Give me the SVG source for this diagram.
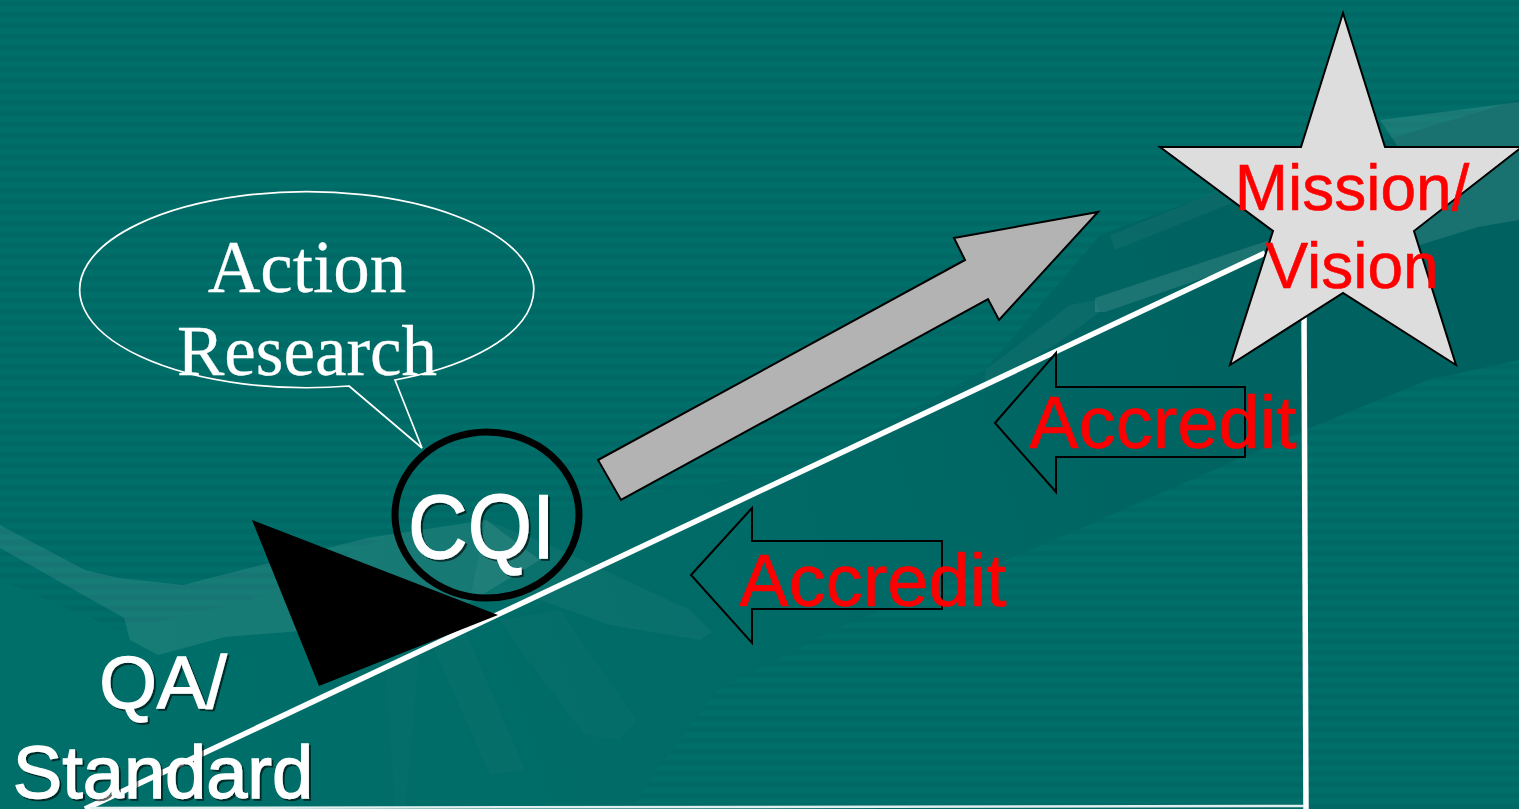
<svg xmlns="http://www.w3.org/2000/svg" width="1519" height="809" viewBox="0 0 1519 809">
<style>
.sans{font-family:"Liberation Sans",Arial,sans-serif}
.serif{font-family:"Liberation Serif","Times New Roman",serif;fill:#fff;stroke:#fff;stroke-width:.3}
.white{fill:#fff;stroke:#fff;stroke-width:1.3;filter:url(#sh)}
.red{fill:#f00;stroke:#f00;stroke-width:.6}
.arrow{fill:none;stroke:#000;stroke-width:2}
.hand{fill:#fff}
</style>
<defs>
<linearGradient id="band" x1="0" y1="0" x2="0" y2="1"><stop offset="0" stop-color="#006966"/><stop offset=".2" stop-color="#006966"/><stop offset=".4" stop-color="#006f69"/><stop offset=".7" stop-color="#006f69"/><stop offset=".9" stop-color="#006966"/><stop offset="1" stop-color="#006966"/></linearGradient>
<pattern id="st" width="10" height="11" patternUnits="userSpaceOnUse" patternTransform="translate(0 3)"><rect width="10" height="11" fill="url(#band)"/></pattern>
<linearGradient id="arm" gradientUnits="userSpaceOnUse" x1="100" y1="720" x2="1300" y2="330"><stop offset="0" stop-color="#006f69"/><stop offset=".55" stop-color="#006a66"/><stop offset="1" stop-color="#006260"/></linearGradient>
<filter id="sh" x="-10%" y="-10%" width="120%" height="125%"><feDropShadow dx="2" dy="2" stdDeviation=".5" flood-color="#000" flood-opacity=".6"/></filter>
</defs>
<g id="background">
<rect width="1519" height="809" fill="url(#st)"/>
<path d="M0 580 L120 630 L250 600 L400 530 L600 500 L800 470 L985 370 L1100 235 L1250 180 L1519 100 L1519 360 L1428 380 L1305 430 L1054 540 L840 627 L717 690 L650 780 L631 809 L0 809Z" fill="url(#arm)"/>
<path class="hand" opacity=".09" d="M0 525 L85 570 L119 578 L183 585 L261 565 L367 538 L486 520 L540 560 L440 620 L225 637 L158 655 L130 640 L124 618 L0 548Z"/>
<path class="hand" opacity=".04" d="M486 520 L550 545 L690 610 L712 632 L700 640 L610 625 L540 600 L470 600Z"/>
<path class="hand" opacity=".02" d="M500 620 L560 610 L636 720 L620 740 L585 735 L520 650Z"/>
<path class="hand" opacity=".02" d="M430 640 L465 630 L525 770 L490 775Z"/>
<path class="hand" opacity=".015" d="M385 660 L420 650 L405 809 L395 809Z"/>
<path class="hand" opacity=".11" d="M1095 298 L1270 240 L1262 258 L1105 312 L1095 312Z"/>
<path class="hand" opacity=".1" d="M1380 120 L1519 102 L1519 220 L1478 227 L1410 248 L1400 150Z"/>
<path class="hand" opacity=".04" d="M1110 235 L1220 190 L1240 200 L1115 250Z"/>
<path class="hand" opacity=".04" d="M985 370 L1070 305 L1095 300 L1100 312 L1055 345 L985 385Z"/>
</g>
<g id="connectors">
<path d="M85 809 L1265 253" fill="none" stroke="#fff" stroke-width="5.5"/>
<path d="M1304 310 L1306 809" fill="none" stroke="#fff" stroke-width="5.5"/>
<path d="M90 808 L1304 806" fill="none" stroke="#dfeeee" stroke-width="2.5"/>
</g>
<g id="qa"><text class="sans white" font-size="74" text-anchor="middle" x="163" y="708">QA/</text>
<text class="sans white" font-size="74" text-anchor="middle" x="163" y="798">Standard</text></g>
<g id="triangle"><path d="M252 520 L498 615 L319 686Z" fill="#000"/></g>
<g id="cqi"><ellipse cx="487" cy="515" rx="92" ry="83" fill="none" stroke="#000" stroke-width="7"/>
<text class="sans white" font-size="91" x="408" y="558" textLength="147" lengthAdjust="spacingAndGlyphs">CQI</text></g>
<g id="action-research"><path d="M395 380 L422 448 L349 386 A227 98 0 1 1 395 380Z" fill="none" stroke="#fff" stroke-width="1.7"/>
<text class="serif" font-size="73" text-anchor="middle" x="307" y="292">Action</text>
<text class="serif" font-size="71" text-anchor="middle" x="307" y="375">Research</text></g>
<g id="growth-arrow"><path d="M1098 212 L954 238 L965 260 L598 460 L621 500 L988 299 L999 320Z" fill="#b3b3b3" stroke="#000" stroke-width="2"/></g>
<g id="mission"><path d="M1343 13 L1385 147 L1522 147 L1414 231 L1456 365 L1343 293 L1230 365 L1273 231 L1160 147 L1301 147Z" fill="#ddd" stroke="#000" stroke-width="2"/>
<text class="sans red" font-size="64" text-anchor="middle" x="1352" y="210">Mission/</text>
<text class="sans red" font-size="64" text-anchor="middle" x="1352" y="288">Vision</text></g>
<g id="accredit-upper"><path class="arrow" d="M995 423 L1056 353 L1056 387 L1245 387 L1245 457 L1056 457 L1056 492Z"/>
<text class="sans red" font-size="74" text-anchor="middle" x="1163" y="448">Accredit</text></g>
<g id="accredit-lower"><path class="arrow" d="M691 575 L752 508 L752 541 L942 541 L942 609 L752 609 L752 643Z"/>
<text class="sans red" font-size="74" text-anchor="middle" x="873" y="606">Accredit</text></g>
</svg>
